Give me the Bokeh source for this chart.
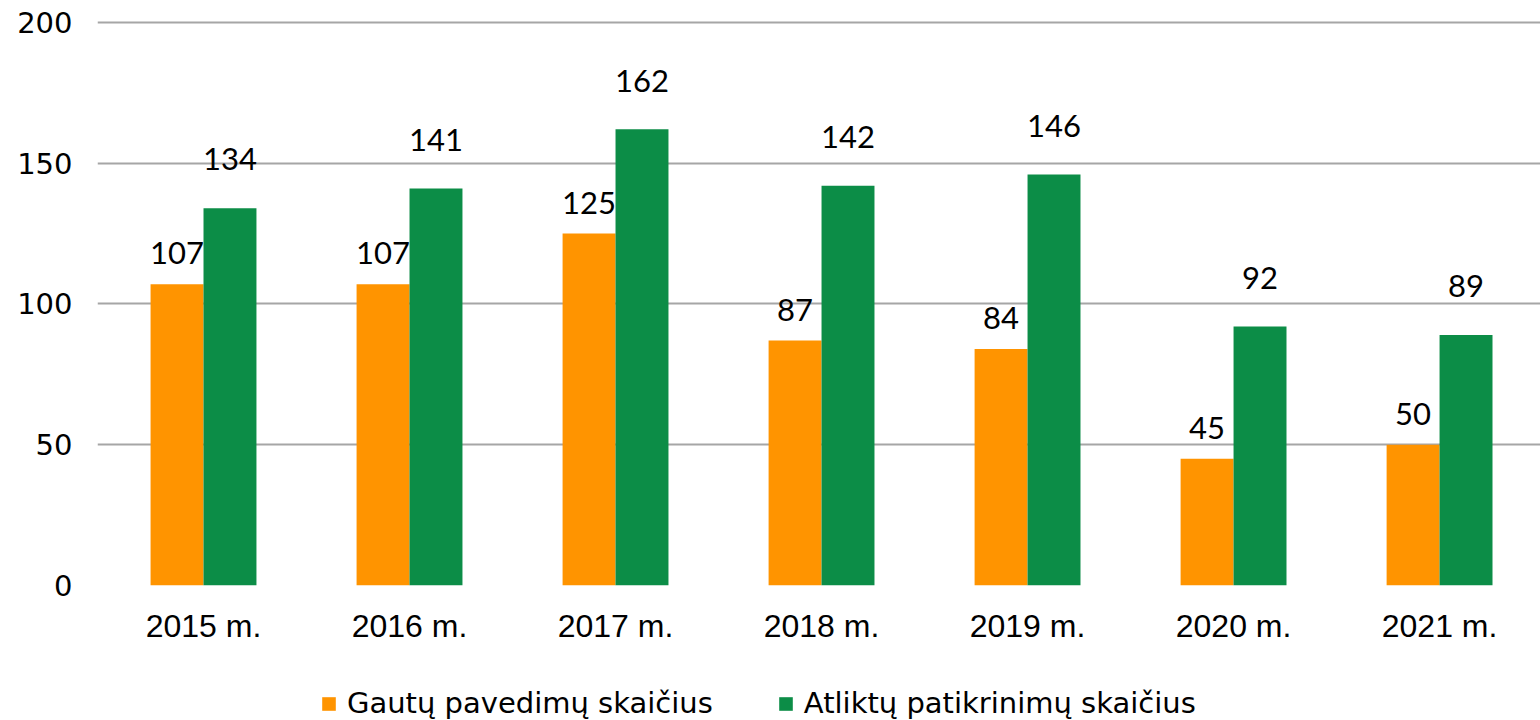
from bokeh.plotting import figure
from bokeh.layouts import column
from bokeh.models import ColumnDataSource, Range1d, FixedTicker, Legend, LegendItem
from bokeh.core.properties import value
from bokeh.transform import dodge
from bokeh.embed import file_html
from bokeh.resources import INLINE

years = ["2015 m.", "2016 m.", "2017 m.", "2018 m.", "2019 m.", "2020 m.", "2021 m."]
received = [107, 107, 125, 87, 84, 45, 50]
performed = [134, 141, 162, 142, 146, 92, 89]
series_names = ["Gautų pavedimų skaičius", "Atliktų patikrinimų skaičius"]
y_ticks = [0, 50, 100, 150, 200]

ORANGE = "#FF9400"
GREEN = "#0C8D47"
BAR_W = 0.257
OFF = BAR_W / 2

idx = list(range(len(years)))
src = ColumnDataSource(dict(
    x=idx,
    received=received,
    performed=performed,
    rec_lbl=[str(v) for v in received],
    perf_lbl=[str(v) for v in performed],
    rec_y=[v + 11 for v in received],
    perf_y=[v + 17.3 for v in performed],
))

p = figure(width=1540, height=660, output_backend="svg", toolbar_location=None,
           x_range=Range1d(-0.5146, 6.490), y_range=Range1d(0, 201),
           min_border_left=97, min_border_right=0, min_border_top=19,
           min_border_bottom=75)
p.outline_line_color = None
p.background_fill_color = "white"

p.vbar(x=dodge("x", -OFF), top="received", width=BAR_W, source=src,
       fill_color=ORANGE, line_color=None)
p.vbar(x=dodge("x", OFF), top="performed", width=BAR_W, source=src,
       fill_color=GREEN, line_color=None)

p.text(x=dodge("x", -OFF), y="rec_y", text="rec_lbl", source=src,
       text_align="center", text_baseline="middle",
       text_font=value("Lato"), text_font_size="31px", text_color="black")
p.text(x=dodge("x", OFF), y="perf_y", text="perf_lbl", source=src,
       text_align="center", text_baseline="middle",
       text_font=value("Lato"), text_font_size="31px", text_color="black")

p.xgrid.grid_line_color = None
p.ygrid.grid_line_color = "#A6A6A6"
p.ygrid.grid_line_width = 2
p.ygrid.ticker = FixedTicker(ticks=y_ticks)

p.yaxis.ticker = FixedTicker(ticks=y_ticks)
p.yaxis.axis_line_color = None
p.yaxis.major_tick_line_color = None
p.yaxis.minor_tick_line_color = None
p.yaxis.major_label_standoff = 19
p.yaxis.major_label_text_font = "DejaVu Sans"
p.yaxis.major_label_text_font_size = "29px"
p.yaxis.major_label_text_color = "black"

p.xaxis.ticker = FixedTicker(ticks=idx)
p.xaxis.major_label_overrides = {i: y for i, y in zip(idx, years)}
p.xaxis.axis_line_color = None
p.xaxis.major_tick_line_color = None
p.xaxis.minor_tick_line_color = None
p.xaxis.major_label_standoff = 16
p.xaxis.major_label_text_font = "Liberation Sans"
p.xaxis.major_label_text_font_size = "32px"
p.xaxis.major_label_text_color = "black"

# legend strip below the chart (series glyphs kept outside its visible range)
lg = figure(width=1540, height=60, output_backend="svg", toolbar_location=None,
            x_axis_type=None, y_axis_type=None,
            x_range=Range1d(-100, -99), y_range=Range1d(0, 1),
            min_border_left=0, min_border_right=0, min_border_top=0,
            min_border_bottom=0)
lg.outline_line_color = None
lg.grid.visible = False
d1 = lg.vbar(x=idx, top=received, width=BAR_W, fill_color=ORANGE, line_color=None)
d2 = lg.vbar(x=idx, top=performed, width=BAR_W, fill_color=GREEN, line_color=None)

legend = Legend(items=[LegendItem(label=series_names[0], renderers=[d1]),
                       LegendItem(label=series_names[1], renderers=[d2])],
                orientation="horizontal", location=(223, 0))
legend.padding = 0
legend.margin = 0
legend.spacing = 64
legend.glyph_width = 17
legend.glyph_height = 17
legend.label_standoff = 10
legend.label_text_font = "DejaVu Sans"
legend.label_text_font_size = "29px"
legend.label_text_color = "black"
legend.border_line_color = None
legend.background_fill_alpha = 0
lg.add_layout(legend)

layout = column(p, lg, spacing=0)
open("out.html", "w").write(file_html(layout, INLINE))
